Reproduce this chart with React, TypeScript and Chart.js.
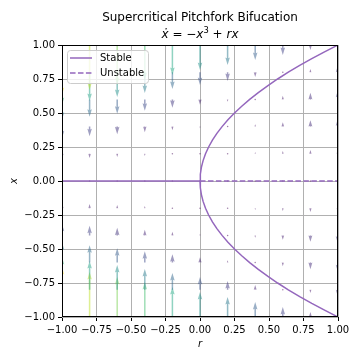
import React, { useEffect, useRef } from 'react';
import { Chart, registerables } from 'chart.js';

Chart.register(...registerables);

// ---------- data ----------
const TITLE = 'Supercritical Pitchfork Bifucation';
const X_LABEL = 'r';
const Y_LABEL = 'x';
const LEGEND_LABELS = ['Stable', 'Unstable'];

const axisTicks = [-1, -0.75, -0.5, -0.25, 0, 0.25, 0.5, 0.75, 1];

// vector field grid (columns r, rows x) and the x-dot value at each node
const fieldR = [-1, -0.8, -0.6, -0.4, -0.2, 0, 0.2, 0.4, 0.6, 0.8, 1];
const fieldX = [-1, -0.8, -0.6, -0.4, -0.2, 0, 0.2, 0.4, 0.6, 0.8, 1];
const fieldXDot = [
  [2, 1.312, 0.816, 0.464, 0.208, 0, -0.208, -0.464, -0.816, -1.312, -2],
  [1.8, 1.152, 0.696, 0.384, 0.168, 0, -0.168, -0.384, -0.696, -1.152, -1.8],
  [1.6, 0.992, 0.576, 0.304, 0.128, 0, -0.128, -0.304, -0.576, -0.992, -1.6],
  [1.4, 0.832, 0.456, 0.224, 0.088, 0, -0.088, -0.224, -0.456, -0.832, -1.4],
  [1.2, 0.672, 0.336, 0.144, 0.048, 0, -0.048, -0.144, -0.336, -0.672, -1.2],
  [1, 0.512, 0.216, 0.064, 0.008, 0, -0.008, -0.064, -0.216, -0.512, -1],
  [0.8, 0.352, 0.096, -0.016, -0.032, 0, 0.032, 0.016, -0.096, -0.352, -0.8],
  [0.6, 0.192, -0.024, -0.096, -0.072, 0, 0.072, 0.096, 0.024, -0.192, -0.6],
  [0.4, 0.032, -0.144, -0.176, -0.112, 0, 0.112, 0.176, 0.144, -0.032, -0.4],
  [0.2, -0.128, -0.264, -0.256, -0.152, 0, 0.152, 0.256, 0.264, 0.128, -0.2],
  [0, -0.288, -0.384, -0.336, -0.192, 0, 0.192, 0.336, 0.384, 0.288, 0],
];

// equilibrium branches
const stableNegR = [-1, 0];
const stableNegX = [0, 0];
const unstableR = [0, 1];
const unstableX = [0, 0];
const branchR = [0, 0.0025, 0.01, 0.0225, 0.04, 0.0625, 0.09, 0.1225, 0.16, 0.2025, 0.25, 0.3025, 0.36, 0.4225, 0.49, 0.5625, 0.64, 0.7225, 0.81, 0.9025, 1];
const upperBranchX = [0, 0.05, 0.1, 0.15, 0.2, 0.25, 0.3, 0.35, 0.4, 0.45, 0.5, 0.55, 0.6, 0.65, 0.7, 0.75, 0.8, 0.85, 0.9, 0.95, 1];
const lowerBranchX = [0, -0.05, -0.1, -0.15, -0.2, -0.25, -0.3, -0.35, -0.4, -0.45, -0.5, -0.55, -0.6, -0.65, -0.7, -0.75, -0.8, -0.85, -0.9, -0.95, -1];

// ---------- style ----------
const PURPLE = '#9467bd';
const FONT = '"DejaVu Sans", "Liberation Sans", sans-serif';
const ARROW_SCALE = 0.184; // data units of x per unit of x-dot
const ARROW_ALPHA = 0.5;
const SHAFT_W = 1.5;
const VIRIDIS = [
  [68, 1, 84], [72, 36, 117], [65, 68, 135], [53, 95, 141], [42, 120, 142],
  [33, 145, 140], [34, 168, 132], [68, 191, 112], [122, 209, 81], [189, 223, 38], [253, 231, 37],
];

function viridis(t: number, a: number) {
  const v = Math.max(0, Math.min(1, t)) * (VIRIDIS.length - 1);
  const i = Math.min(Math.floor(v), VIRIDIS.length - 2);
  const f = v - i;
  const c = VIRIDIS[i].map((c0, k) => Math.round(c0 + (VIRIDIS[i + 1][k] - c0) * f));
  return `rgba(${c[0]},${c[1]},${c[2]},${a})`;
}

const fmt = (v: number) => (v < 0 ? '\u2212' : '') + Math.abs(v).toFixed(2);

function drawArrow(ctx: CanvasRenderingContext2D, x: number, yTail: number, yTip: number, color: string) {
  const len = Math.abs(yTail - yTip);
  const dir = yTip < yTail ? -1 : 1;
  const w = SHAFT_W;
  const hl = 5 * w;
  const hal = 4.5 * w;
  const hw = 3 * w;
  ctx.fillStyle = color;
  if (len < w) {
    ctx.beginPath();
    ctx.arc(x, yTail, w * 0.5, 0, Math.PI * 2);
    ctx.fill();
    return;
  }
  let s = 1;
  let Lu = len;
  if (len < hl) {
    s = len / hl;
    Lu = hl;
  }
  const pts = [
    [0, w / 2], [Lu - hal, w / 2], [Lu - hl, hw / 2], [Lu, 0],
    [Lu - hl, -hw / 2], [Lu - hal, -w / 2], [0, -w / 2],
  ];
  ctx.beginPath();
  pts.forEach(([a, b], i) => {
    const px = x + b * s;
    const py = yTail + dir * a * s;
    if (i === 0) ctx.moveTo(px, py);
    else ctx.lineTo(px, py);
  });
  ctx.closePath();
  ctx.fill();
}

const quiverPlugin = {
  id: 'quiver',
  beforeDatasetsDraw(chart: any) {
    const { ctx, chartArea, scales } = chart;
    const xs = scales.x;
    const ys = scales.y;
    let maxMag = 0;
    fieldXDot.forEach((row) => row.forEach((v) => (maxMag = Math.max(maxMag, Math.abs(v)))));
    ctx.save();
    ctx.beginPath();
    ctx.rect(chartArea.left, chartArea.top, chartArea.right - chartArea.left, chartArea.bottom - chartArea.top);
    ctx.clip();
    fieldX.forEach((xv, j) => {
      fieldR.forEach((rv, i) => {
        const d = fieldXDot[i][j];
        const px = xs.getPixelForValue(rv);
        const yTail = ys.getPixelForValue(xv);
        const yTip = ys.getPixelForValue(xv + d * ARROW_SCALE);
        drawArrow(ctx, px, yTail, yTip, viridis(Math.abs(d) / maxMag, ARROW_ALPHA));
      });
    });
    ctx.restore();
  },
  afterDatasetsDraw(chart: any) {
    const { ctx, chartArea } = chart;
    ctx.save();
    ctx.strokeStyle = '#000';
    ctx.lineWidth = 1;
    const l = Math.round(chartArea.left) + 0.5;
    const t = Math.round(chartArea.top) + 0.5;
    const r = Math.round(chartArea.right) - 0.5;
    const b = Math.round(chartArea.bottom) - 0.5;
    ctx.strokeRect(l, t, r - l, b - t);
    ctx.restore();
  },
  afterDraw(chart: any) {
    const { ctx, chartArea } = chart;
    const cx = (chartArea.left + chartArea.right) / 2;
    ctx.save();
    // titles
    ctx.fillStyle = '#000';
    ctx.textBaseline = 'alphabetic';
    ctx.textAlign = 'left';
    ctx.font = `12px ${FONT}`;
    const tw = ctx.measureText(TITLE).width;
    ctx.fillText(TITLE, cx - tw / 2, chartArea.top - 24);

    const segs: [string, string, number][] = [
      ['\u1E8B', `italic 12px ${FONT}`, 0],
      [' = ', `12px ${FONT}`, 0],
      ['\u2212', `12px ${FONT}`, 0],
      ['x', `italic 12px ${FONT}`, 0],
      ['3', `8.4px ${FONT}`, -4.6],
      [' + ', `12px ${FONT}`, 0],
      ['rx', `italic 12px ${FONT}`, 0],
    ];
    let total = 0;
    const widths = segs.map(([t, f]) => {
      ctx.font = f;
      const w = ctx.measureText(t).width;
      total += w;
      return w;
    });
    let x0 = cx - total / 2;
    const base = chartArea.top - 7;
    segs.forEach(([t, f, dy], i) => {
      ctx.font = f;
      ctx.fillText(t, x0, base + dy);
      x0 += widths[i];
    });

    // legend
    const bx = chartArea.left + 5.5;
    const by = chartArea.top + 5.5;
    const bw = 81;
    const bh = 33;
    const rad = 3;
    ctx.beginPath();
    ctx.moveTo(bx + rad, by);
    ctx.lineTo(bx + bw - rad, by);
    ctx.quadraticCurveTo(bx + bw, by, bx + bw, by + rad);
    ctx.lineTo(bx + bw, by + bh - rad);
    ctx.quadraticCurveTo(bx + bw, by + bh, bx + bw - rad, by + bh);
    ctx.lineTo(bx + rad, by + bh);
    ctx.quadraticCurveTo(bx, by + bh, bx, by + bh - rad);
    ctx.lineTo(bx, by + rad);
    ctx.quadraticCurveTo(bx, by, bx + rad, by);
    ctx.closePath();
    ctx.fillStyle = 'rgba(255,255,255,0.8)';
    ctx.fill();
    ctx.strokeStyle = '#cccccc';
    ctx.lineWidth = 1;
    ctx.stroke();

    const hx0 = chartArea.left + 8;
    const hx1 = chartArea.left + 30;
    const y1 = chartArea.top + 13;
    const y2 = chartArea.top + 28;
    ctx.strokeStyle = PURPLE;
    ctx.lineWidth = 1.5;
    ctx.setLineDash([]);
    ctx.beginPath();
    ctx.moveTo(hx0, y1);
    ctx.lineTo(hx1, y1);
    ctx.stroke();
    ctx.setLineDash([5.55, 2.4]);
    ctx.beginPath();
    ctx.moveTo(hx0, y2);
    ctx.lineTo(hx1, y2);
    ctx.stroke();
    ctx.setLineDash([]);
    ctx.fillStyle = '#000';
    ctx.font = `10px ${FONT}`;
    ctx.textBaseline = 'middle';
    ctx.fillText(LEGEND_LABELS[0], chartArea.left + 38, y1);
    ctx.fillText(LEGEND_LABELS[1], chartArea.left + 38, y2);
    ctx.restore();
  },
};

const toPoints = (xs: number[], ys: number[]) => xs.map((v, i) => ({ x: v, y: ys[i] }));

export default function App() {
  const ref = useRef<HTMLCanvasElement>(null);
  useEffect(() => {
    if (!ref.current) return;
    const lineBase = {
      showLine: true,
      pointRadius: 0,
      borderColor: PURPLE,
      backgroundColor: PURPLE,
      borderWidth: 1.5,
      fill: false,
      tension: 0,
    };
    const tickOpts = {
      color: '#000',
      font: { family: FONT, size: 10 },
      padding: 3,
      autoSkip: false,
      maxRotation: 0,
      callback: (v: any) => fmt(Number(v)),
    };
    const chart = new Chart(ref.current, {
      type: 'scatter',
      data: {
        datasets: [
          { ...lineBase, label: LEGEND_LABELS[0], data: toPoints(stableNegR, stableNegX) },
          { ...lineBase, label: LEGEND_LABELS[0], data: toPoints(branchR, upperBranchX) },
          { ...lineBase, label: LEGEND_LABELS[0], data: toPoints(branchR, lowerBranchX) },
          { ...lineBase, label: LEGEND_LABELS[1], borderDash: [5.55, 2.4], data: toPoints(unstableR, unstableX) },
        ],
      },
      options: {
        animation: false,
        responsive: false,
        devicePixelRatio: 1,
        layout: { padding: { top: 45, right: 22, bottom: 0, left: 0 } },
        plugins: {
          legend: { display: false },
          tooltip: { enabled: false },
          title: { display: false },
        },
        scales: {
          x: {
            type: 'linear',
            min: -1,
            max: 1,
            afterBuildTicks: (s: any) => {
              s.ticks = axisTicks.map((v) => ({ value: v }));
            },
            afterFit: (s: any) => {
              s.height = 43;
            },
            ticks: tickOpts,
            grid: { color: '#b0b0b0', lineWidth: 1, tickLength: 4, tickColor: '#000', drawTicks: true },
            border: { display: false },
            title: {
              display: true,
              text: X_LABEL,
              color: '#000',
              font: { family: FONT, size: 10, style: 'italic' },
              padding: { top: 0, bottom: 10 },
            },
          },
          y: {
            type: 'linear',
            min: -1,
            max: 1,
            afterBuildTicks: (s: any) => {
              s.ticks = axisTicks.map((v) => ({ value: v }));
            },
            afterFit: (s: any) => {
              s.width = 62;
            },
            ticks: tickOpts,
            grid: { color: '#b0b0b0', lineWidth: 1, tickLength: 4, tickColor: '#000', drawTicks: true },
            border: { display: false },
            title: {
              display: true,
              text: Y_LABEL,
              color: '#000',
              font: { family: FONT, size: 10, style: 'italic' },
              padding: { top: 8, bottom: 0 },
            },
          },
        },
      } as any,
      plugins: [quiverPlugin],
    });
    return () => chart.destroy();
  }, []);
  return (
    <div style={{ position: 'fixed', left: 0, top: 0, width: 360, height: 360, background: '#fff' }}>
      <canvas ref={ref} width={360} height={360} style={{ display: 'block', width: 360, height: 360 }} />
    </div>
  );
}
